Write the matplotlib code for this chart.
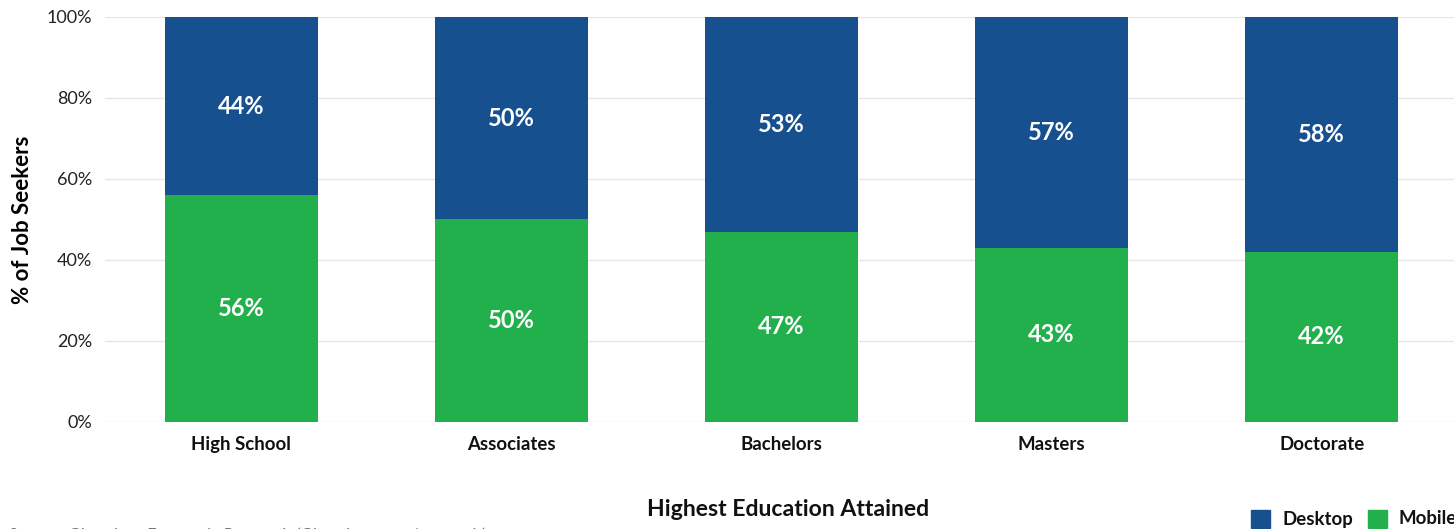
import matplotlib
matplotlib.use("Agg")
import matplotlib.pyplot as plt
from matplotlib.patches import Rectangle

categories = ["High School", "Associates", "Bachelors", "Masters", "Doctorate"]
mobile = [56, 50, 47, 43, 42]
desktop = [44, 50, 53, 57, 58]
yticks = [0, 20, 40, 60, 80, 100]

plt.rcParams['font.family'] = ['Lato', 'DejaVu Sans']

BLUE = "#16508F"
GREEN = "#21B04B"

fig = plt.figure(figsize=(14.54, 5.29), dpi=100)
ax = fig.add_axes([0.0722, 0.2023, 0.9278, 0.7656])

x = list(range(len(categories)))
w = 0.567
ax.bar(x, mobile, width=w, color=GREEN, zorder=3)
ax.bar(x, desktop, width=w, bottom=mobile, color=BLUE, zorder=3)

for i in x:
    ax.text(i, mobile[i] / 2, f"{mobile[i]}%", ha="center", va="center",
            color="white", fontsize=17, fontweight="bold", zorder=4)
    ax.text(i, mobile[i] + desktop[i] / 2, f"{desktop[i]}%", ha="center", va="center",
            color="white", fontsize=17, fontweight="bold", zorder=4)

ax.set_xlim(-0.504, 4.49)
ax.set_ylim(0, 100)
ax.set_yticks(yticks)
ax.set_yticklabels([f"{t}%" for t in yticks], fontsize=13, color="#222222")
ax.set_xticks(x)
ax.set_xticklabels(categories, fontsize=13.4, fontweight="bold", color="#111111")
ax.tick_params(axis="both", length=0)
ax.tick_params(axis="y", pad=9)
ax.tick_params(axis="x", pad=10)
ax.grid(axis="y", color="#E6E6E6", linewidth=1, zorder=0)
for s in ax.spines.values():
    s.set_visible(False)

ax.set_ylabel("% of Job Seekers", fontsize=16, fontweight="bold", labelpad=10)
fig.text(0.542, 0.036, "Highest Education Attained", ha="center", va="center",
         fontsize=16.6, fontweight="bold", color="#111111")

# legend
fig.patches.append(Rectangle((1251 / 1454, 1 - 528 / 529), 19 / 1454, 18 / 529,
                             transform=fig.transFigure, color=BLUE))
fig.text(1282 / 1454, 1 - 519 / 529, "Desktop", ha="left", va="center",
         fontsize=13.4, fontweight="bold", color="#111111")
fig.patches.append(Rectangle((1368 / 1454, 1 - 528 / 529), 19 / 1454, 18 / 529,
                             transform=fig.transFigure, color=GREEN))
fig.text(1399 / 1454, 1 - 519 / 529, "Mobile", ha="left", va="center",
         fontsize=13.4, fontweight="bold", color="#111111")

fig.text(8 / 1454, -0.014, "Source: Glassdoor Economic Research (Glassdoor.com/research)",
         ha="left", va="center", fontsize=13, fontstyle="italic", color="#777777")

fig.savefig("out.png", dpi=100)
